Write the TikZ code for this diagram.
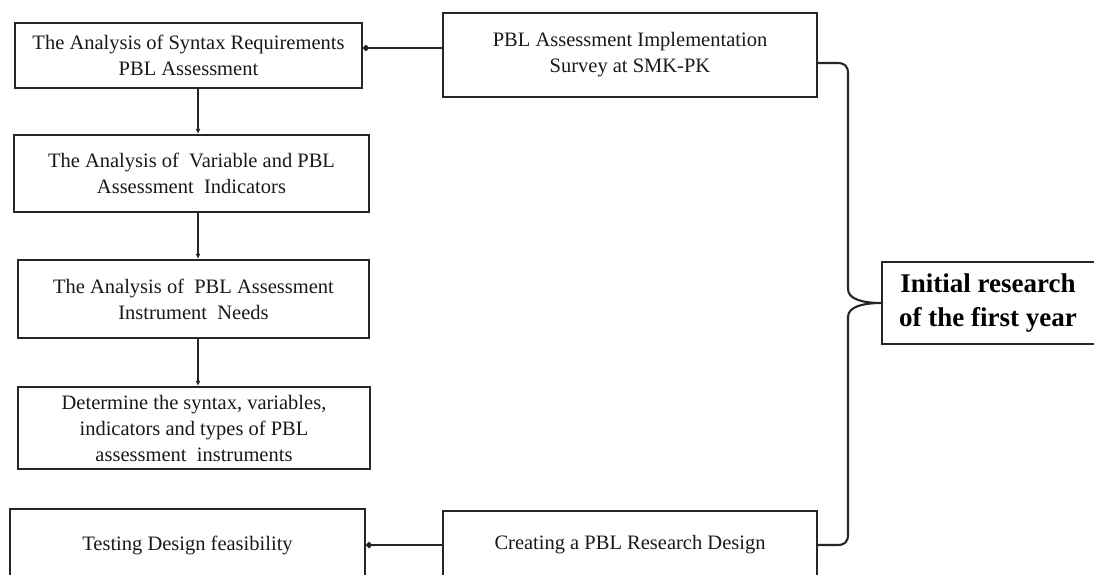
\documentclass[tikz,border=0pt]{standalone}
\usepackage{fontspec}
\setmainfont{Liberation Serif}
\usetikzlibrary{arrows.meta}
\tikzset{
  boxline/.style={draw=black!85, line width=2.1pt},
  stepbox/.style={boxline, rectangle, inner sep=0pt, align=center, text=black!90,
    font=\fontsize{20.5}{26}\selectfont},
  conn/.style={draw=black!85, line width=2.1pt},
  downarrow/.style={conn, -{Latex[length=5pt,width=5pt]}},
  dotend/.style={conn, -{Circle[length=6pt]}},
}
\begin{document}
\begin{tikzpicture}[x=1pt,y=-1pt]
\useasboundingbox (0,0) rectangle (1094,574);
\clip (0,0) rectangle (1094,574);
\fill[white] (0,0) rectangle (1094,574);

\node[stepbox, minimum width=347, minimum height=65] (b1) at (188.5,55.5)
  {The Analysis of Syntax Requirements\\PBL Assessment};
\node[stepbox, minimum width=374, minimum height=84] (survey) at (630,55)
  {PBL Assessment Implementation\\Survey at SMK-PK};
\node[stepbox, minimum width=355, minimum height=77] (b2) at (191.5,173.5)
  {The Analysis of \ Variable and PBL\\Assessment \ Indicators};
\node[stepbox, minimum width=351, minimum height=78] (b3) at (193.5,299)
  {The Analysis of \ PBL Assessment\\Instrument \ Needs};
\node[stepbox, minimum width=352, minimum height=82] (b4) at (194,428)
  {Determine the syntax, variables,\\indicators and types of PBL\\assessment \ instruments};
\node[stepbox, minimum width=355, minimum height=72] (test) at (187.5,545)
  {Testing Design feasibility};
\node[stepbox, minimum width=374, minimum height=68] (create) at (630,545)
  {Creating a PBL Research Design};

\node[inner sep=0pt, minimum width=212, minimum height=82, align=center, text=black,
  font=\fontsize{27}{34}\selectfont\bfseries] (init) at (988,303)
  {Initial research\\of the first year};
\draw[boxline] ([xshift=40pt]init.north east) -- (init.north west) -- (init.south west) -- ([xshift=40pt]init.south east);

\coordinate (cx) at (198,0);
\coordinate (topy) at (0,48);
\draw[downarrow] (b1.south -| cx) -- (b2.north -| cx);
\draw[downarrow] (b2.south -| cx) -- (b3.north -| cx);
\draw[downarrow] (b3.south -| cx) -- (b4.north -| cx);
\draw[dotend] (survey.west |- topy) -- (b1.east |- topy);
\draw[dotend] (create.west) -- (test.east);

% brace
\coordinate (btop) at (817,63);
\coordinate (bbot) at (817,545);
\draw[conn, line join=round]
  (survey.east |- btop) -- (837,63) .. controls (845,63) and (848,66) .. (848,74)
  -- (848,289) .. controls (848,299) and (862,303) .. (init.west)
  .. controls (862,303) and (848,307) .. (848,317)
  -- (848,534) .. controls (848,542) and (845,545) .. (837,545) -- (create.east |- bbot);
\end{tikzpicture}
\end{document}
